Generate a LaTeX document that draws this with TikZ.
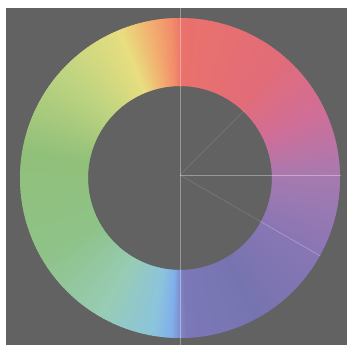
\documentclass[tikz,border=0pt]{standalone}
\usetikzlibrary{calc}
\definecolor{bg}{RGB}{98,98,98}
\definecolor{s0}{RGB}{166,122,176}
\definecolor{s1}{RGB}{208,110,152}
\definecolor{s2}{RGB}{226,108,120}
\definecolor{s3}{RGB}{234,114,108}
\definecolor{s4}{RGB}{242,142,106}
\definecolor{s5}{RGB}{242,176,112}
\definecolor{s6}{RGB}{232,222,128}
\definecolor{s7}{RGB}{190,212,128}
\definecolor{s8}{RGB}{145,192,122}
\definecolor{s9}{RGB}{142,194,136}
\definecolor{s10}{RGB}{152,204,180}
\definecolor{s11}{RGB}{140,196,220}
\definecolor{s12}{RGB}{128,176,234}
\definecolor{s13}{RGB}{124,120,184}
\definecolor{s14}{RGB}{118,116,176}
\definecolor{s15}{RGB}{136,118,180}
\tikzset{ln/.style={draw=white,line width=0.6pt,opacity=0.35}}
\begin{document}
\begin{tikzpicture}[x=1pt,y=1pt]
\useasboundingbox (0,0) rectangle (350,346);
\fill[white] (0,0) rectangle (350,346);
\fill[bg] (6,1) rectangle (347,338);
\coordinate (c) at (180,168);
\coordinate (x) at (180,171);
\begin{scope}[shift={(c)}]
\foreach \sa/\sb/\ca/\cb in {0/25/s0/s1,25/50/s1/s2,50/89/s2/s3,89/93/s3/s4,93/101/s4/s5,101/112/s5/s6,112/138/s6/s7,138/170/s7/s8,170/210/s8/s9,210/240/s9/s10,240/260/s10/s11,260/267/s11/s12,267/272/s12/s13,272/300/s13/s14,300/330/s14/s15,330/360/s15/s0}{
  \pgfmathtruncatemacro\n{\sb-\sa-1}
  \foreach \i in {0,...,\n}{
    \pgfmathsetmacro\a{\sa+\i}
    \pgfmathsetmacro\b{\sa+\i+1.6}
    \pgfmathtruncatemacro\p{100*(\i+0.5)/(\sb-\sa)}
    \fill[\cb!\p!\ca] (\a:92) arc[start angle=\a,end angle=\b,radius=92] -- (\b:160) arc[start angle=\b,end angle=\a,radius=160] -- cycle;
  }
}
\end{scope}
\coordinate (r) at ($(x)+(-30:92)$);
\draw[ln] (180,1) -- (180,338);
\draw[ln] (x) -- (341,171);
\draw[ln,opacity=0.15] (x) -- ++(45:92);
\draw[ln,opacity=0.15] (x) -- (r);
\draw[ln,opacity=0.3] (r) -- ++(-30:70);
\end{tikzpicture}
\end{document}
